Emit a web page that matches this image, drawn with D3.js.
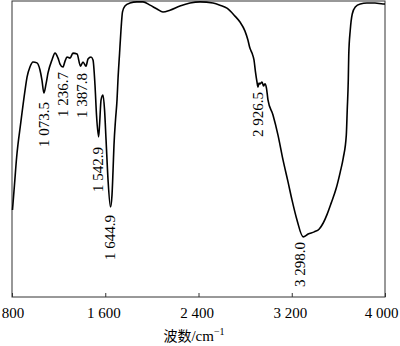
<!DOCTYPE html>
<html>
<head>
<meta charset="utf-8">
<script src="https://cdn.jsdelivr.net/npm/d3@7"></script>
<style>
  html, body { margin: 0; padding: 0; background: #fff; }
  svg { display: block; }
  text { font-family: "Liberation Serif", "Noto Sans CJK SC", serif; fill: #000; }
</style>
</head>
<body>
<svg id="chart" width="400" height="346"></svg>
<script>
// FTIR spectrum: wavenumber (cm^-1) vs. transmittance (arbitrary %)
const wavenumbers = [
  804, 821, 840, 875, 912, 929, 954, 980, 1014, 1040, 1057, 1073.5, 1092, 1109,
  1143, 1169, 1195, 1212, 1236.7, 1255, 1272, 1298, 1323, 1358, 1387.8, 1409,
  1435, 1452, 1478, 1495, 1512, 1525, 1542.9, 1551, 1564, 1581, 1594, 1607,
  1624, 1644.9, 1658, 1667, 1675, 1688, 1701, 1709, 1722, 1735, 1748, 1769,
  1812, 1872, 1924, 1984, 2044, 2095, 2155, 2241, 2327, 2413, 2524, 2584, 2644,
  2713, 2756, 2798, 2824, 2841, 2859, 2876, 2889, 2902, 2910, 2919, 2926.5,
  2945, 2958, 2970, 2983, 2996, 3039, 3082, 3125, 3168, 3202, 3245, 3298.0,
  3341, 3393, 3436, 3470, 3504, 3539, 3582, 3616, 3642, 3668, 3676, 3685, 3689,
  3702, 3719, 3745, 3788, 3845, 3914, 3983, 4000
];
const transmittance = [
  29.4, 37.8, 47.3, 58.8, 69.9, 74.3, 77.7, 79.4, 79.1, 76.7, 73.3, 68.9, 72.0, 75.7,
  80.1, 82.4, 80.7, 78.7, 77.7, 79.7, 81.1, 80.7, 82.4, 82.1, 78.0, 79.4,
  78.0, 80.4, 81.1, 80.1, 71.6, 61.5, 54.1, 58.1, 66.6, 68.2, 63.2, 53.0,
  39.5, 30.4, 34.5, 42.9, 51.4, 59.8, 66.6, 73.3, 81.8, 90.2, 96.3, 98.3,
  99.3, 99.7, 99.7, 98.6, 97.3, 96.3, 96.9, 98.3, 99.3, 99.7, 99.3, 98.6, 97.6,
  94.9, 92.9, 89.9, 86.8, 84.1, 82.4, 80.1, 76.0, 72.6, 70.9, 72.3, 72.0,
  72.6, 71.3, 72.0, 70.6, 66.6, 61.5, 54.7, 46.3, 38.9, 32.8, 26.0, 20.3,
  21.3, 22.0, 23.0, 25.0, 28.0, 31.8, 36.8, 42.2, 47.0, 54.7, 63.2, 73.3, 81.8,
  90.2, 95.6, 98.0, 99.0, 99.3, 99.3, 99.0, 99.0
];

// Annotated absorption bands
const peakLabels = ["1 073.5", "1 236.7", "1 387.8", "1 542.9", "1 644.9", "2 926.5", "3 298.0"];
const peakWavenumbers = [1073.5, 1236.7, 1387.8, 1542.9, 1644.9, 2926.5, 3298.0];
const peakLabelTops = [102, 72, 73, 147, 215, 92, 242]; // vertical position of label's upper end
const peakLabelShift = [0, 0, 1, -1, 0, -2, -3];

const xTicks = [800, 1600, 2400, 3200, 4000];
const xTickLabels = ["800", "1 600", "2 400", "3 200", "4 000"];

const plotLeft = 12, plotRight = 385, plotTop = 1, plotBottom = 297;

const svg = d3.select("#chart");
const x = d3.scaleLinear().domain([800, 4000]).range([plotLeft, plotRight]);
const y = d3.scaleLinear().domain([0, 100]).range([plotBottom, plotTop]);

// frame
svg.append("rect")
  .attr("x", plotLeft).attr("y", plotTop)
  .attr("width", plotRight - plotLeft).attr("height", plotBottom - plotTop)
  .attr("fill", "none").attr("stroke", "#333").attr("stroke-width", 1);

// bottom axis with inward ticks
const axis = d3.axisBottom(x)
  .tickValues(xTicks)
  .tickFormat((d, i) => xTickLabels[i])
  .tickSizeInner(-4).tickSizeOuter(0).tickPadding(10);

const gx = svg.append("g").attr("transform", `translate(0,${plotBottom})`).call(axis);
gx.select(".domain").remove();
gx.selectAll(".tick line").attr("stroke", "#333");
gx.selectAll(".tick text")
  .attr("font-size", 15)
  .attr("font-family", "Liberation Serif, serif")
  .attr("dx", (d, i) => i === 0 ? 0.5 : (i === xTicks.length - 1 ? -4 : -2));

// axis title
const title = svg.append("text")
  .attr("x", 194).attr("y", 341)
  .attr("text-anchor", "middle")
  .attr("font-size", 15);
title.append("tspan").attr("font-family", "Noto Sans CJK SC").attr("font-size", 14).text("波数");
title.append("tspan").text("/cm");
title.append("tspan").attr("dy", -6).attr("font-size", 10).text("−1");

// spectrum
const pts = wavenumbers.map((w, i) => [w, transmittance[i]]);
const line = d3.line()
  .x(d => x(d[0]))
  .y(d => y(d[1]))
  .curve(d3.curveMonotoneX);

svg.append("path")
  .datum(pts)
  .attr("d", line)
  .attr("fill", "none")
  .attr("stroke", "#000")
  .attr("stroke-width", 1.6)
  .attr("stroke-linejoin", "round");

// band labels, rotated, reading bottom-to-top
svg.selectAll(".peak")
  .data(peakWavenumbers)
  .enter().append("text")
  .attr("class", "peak")
  .attr("font-size", 15)
  .attr("text-anchor", "end")
  .attr("dominant-baseline", "central")
  .attr("transform", (d, i) => `translate(${x(d) + peakLabelShift[i]},${peakLabelTops[i]}) rotate(-90)`)
  .text((d, i) => peakLabels[i]);
</script>
</body>
</html>
